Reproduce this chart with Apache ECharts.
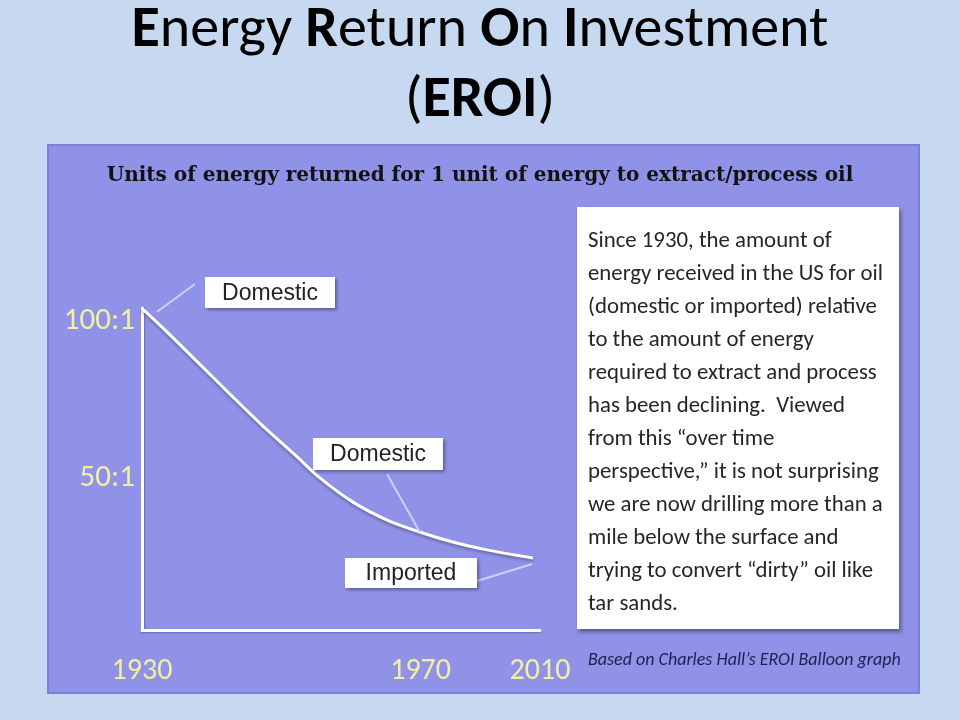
<!DOCTYPE html>
<html>
<head>
<meta charset="utf-8">
<script src="https://cdn.jsdelivr.net/npm/echarts@6/dist/echarts.min.js"></script>
<style>
html,body{margin:0;padding:0;background:#c6d9f0;}
#chart{width:960px;height:720px;}
</style>
</head>
<body>
<div id="chart"></div>
<script>
// ---- data ----
// schematic time position (0 = 1930, 100 = 2010) and EROI value (units returned per unit invested)
const curveX = [0, 5.3, 13.8, 22.1, 30.4, 39.0, 44.7, 53.0, 61.6, 69.8, 78.1, 86.7, 98.2];
const curveY = [102.4, 96.1, 85.5, 75.1, 64.9, 55.1, 48.4, 40.7, 35.0, 31.2, 28.0, 25.5, 22.9];
const xTickPositions = [0, 70, 100];
const xTickLabels = ['1930', '1970', '2010'];
const yTickValues = [50, 100];
const yTickLabels = ['50:1', '100:1'];
const annoLabels = ['Domestic', 'Domestic', 'Imported'];
const annoAnchorX = [3.8, 69.8, 98.0];
const annoAnchorY = [101.3, 31.2, 21.0];

const titleText = '{b|E}nergy {b|R}eturn {b|O}n {b|I}nvestment\n({b|EROI})';
const panelTitle = 'Units of energy returned for 1 unit of energy to extract/process oil';
const noteLines = [
  'Since 1930, the amount of',
  'energy received in the US for oil',
  '(domestic or imported) relative',
  'to the amount of energy',
  'required to extract and process',
  'has been declining.  Viewed',
  'from this \u201cover time',
  'perspective,\u201d it is not surprising',
  'we are now drilling more than a',
  'mile below the surface and',
  'trying to convert \u201cdirty\u201d oil like',
  'tar sands.'
];
const sourceText = 'Based on Charles Hall\u2019s EROI Balloon graph';

// ---- layout (pixels) ----
const annoBoxes = [
  {x: 205, y: 277, w: 130, h: 31, lx: 195, ly: 284},
  {x: 313, y: 438, w: 130, h: 32, lx: 387, ly: 474},
  {x: 345, y: 558, w: 132, h: 30, lx: 477, ly: 581}
];
const sansFont = 'Carlito, Lato, sans-serif';
const yellow = '#f2efa4';

const chart = echarts.init(document.getElementById('chart'));

const baseGraphic = [
  {type: 'rect', z: -10, shape: {x: 48, y: 145, width: 871, height: 548},
   style: {fill: '#8f92e7', stroke: '#7d80d9', lineWidth: 2}},
  {type: 'text', z: 5, style: {text: titleText, x: 480, y: -4, align: 'center', verticalAlign: 'top',
    font: '58px ' + sansFont, fill: '#000', lineHeight: 70,
    rich: {b: {fontWeight: 'bold', fontSize: 58, fontFamily: sansFont, lineHeight: 70}}}},
  {type: 'text', z: 5, style: {text: panelTitle, x: 480, y: 176, align: 'center', verticalAlign: 'middle',
    font: 'bold 20px "DejaVu Serif", serif', fill: '#111'}},
  {type: 'rect', z: 5, shape: {x: 577, y: 207, width: 322, height: 422},
   style: {fill: '#fff', shadowBlur: 4, shadowOffsetX: 2, shadowOffsetY: 3, shadowColor: 'rgba(0,0,0,0.4)'}},
  {type: 'text', z: 6, style: {text: noteLines.join('\n'), x: 588, y: 224.5, align: 'left', verticalAlign: 'top',
    font: '22.8px ' + sansFont, fill: '#262626', lineHeight: 33}},
  {type: 'text', z: 6, style: {text: sourceText, x: 588, y: 660, align: 'left', verticalAlign: 'middle',
    font: 'italic 18px ' + sansFont, fill: '#1e2250'}}
];

const option = {
  animation: false,
  backgroundColor: '#c6d9f0',
  grid: {left: 142, right: 420, top: 308, bottom: 90},
  xAxis: {
    type: 'value', min: 0, max: 100,
    splitLine: {show: false},
    axisLine: {show: true, lineStyle: {color: '#ffffff', width: 3, cap: 'round',
      shadowColor: 'rgba(0,0,0,0.25)', shadowBlur: 2, shadowOffsetY: 1}},
    axisTick: {show: false},
    axisLabel: {customValues: xTickPositions, margin: 26, color: yellow, fontSize: 30, fontFamily: sansFont,
      formatter: function (v) { const i = xTickPositions.indexOf(v); return i >= 0 ? xTickLabels[i] : ''; }}
  },
  yAxis: {
    type: 'value', min: 0, max: 102.5,
    splitLine: {show: false},
    axisLine: {show: true, lineStyle: {color: '#ffffff', width: 3, cap: 'round',
      shadowColor: 'rgba(0,0,0,0.25)', shadowBlur: 2, shadowOffsetX: 1}},
    axisTick: {show: false},
    axisLabel: {customValues: yTickValues, margin: 7, color: yellow, fontSize: 31, fontFamily: sansFont,
      verticalAlign: 'top', lineHeight: 10,
      formatter: function (v) { const i = yTickValues.indexOf(v); return i >= 0 ? yTickLabels[i] : ''; }}
  },
  series: [{
    type: 'line', smooth: 0.3, symbol: 'none',
    data: curveX.map((x, i) => [x, curveY[i]]),
    lineStyle: {color: '#ffffff', width: 3, shadowColor: 'rgba(0,0,0,0.3)', shadowBlur: 3, shadowOffsetY: 2}
  }],
  graphic: baseGraphic
};
chart.setOption(option);

// annotation boxes with leader lines pointing at data positions
const annoGraphic = [];
annoBoxes.forEach((b, i) => {
  const p = chart.convertToPixel({seriesIndex: 0}, [annoAnchorX[i], annoAnchorY[i]]);
  annoGraphic.push({type: 'line', z: 8, shape: {x1: b.lx, y1: b.ly, x2: p[0], y2: p[1]},
    style: {stroke: '#cdd0f7', lineWidth: 2}});
  annoGraphic.push({type: 'rect', z: 9, shape: {x: b.x, y: b.y, width: b.w, height: b.h},
    style: {fill: '#fff', shadowBlur: 3, shadowOffsetX: 2, shadowOffsetY: 2, shadowColor: 'rgba(0,0,0,0.35)'}});
  annoGraphic.push({type: 'text', z: 10, style: {text: annoLabels[i], x: b.x + b.w / 2, y: b.y + b.h / 2 + 1,
    align: 'center', verticalAlign: 'middle', font: '23px "Liberation Sans", Arial, sans-serif', fill: '#222'}});
});
chart.setOption({graphic: baseGraphic.concat(annoGraphic)});
</script>
</body>
</html>
